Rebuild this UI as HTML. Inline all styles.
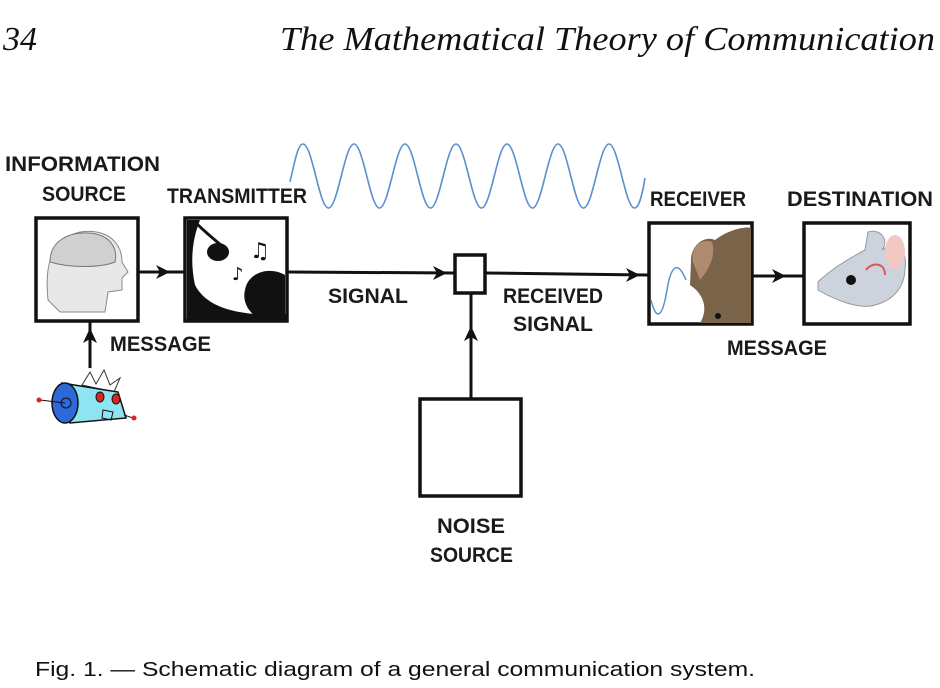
<!DOCTYPE html>
<html><head><meta charset="utf-8"><style>
html,body{margin:0;padding:0;background:#fff;}
svg{display:block}
.l{font-family:"Liberation Sans",sans-serif;font-weight:bold;fill:#1a1a1a;font-size:21px}
</style></head><body>
<svg width="940" height="688" viewBox="0 0 940 688" xmlns="http://www.w3.org/2000/svg">
<rect width="940" height="688" fill="#fff"/>
<text x="3" y="50" font-family="Liberation Serif,serif" font-style="italic" font-size="34" fill="#111">34</text>
<text x="280" y="50" font-family="Liberation Serif,serif" font-style="italic" font-size="34" fill="#111" textLength="655" lengthAdjust="spacingAndGlyphs">The Mathematical Theory of Communication</text>

<path fill="none" stroke="#5b8fd0" stroke-width="1.6" d="M290,182 C295,160 298,144 303,144 C312.3,144 319.2,208 328.5,208 S344.7,144 354,144 S370.2,208 379.5,208 S395.7,144 405,144 S421.2,208 430.5,208 S446.7,144 456,144 S472.2,208 481.5,208 S497.7,144 507,144 S523.2,208 532.5,208 S548.7,144 558,144 S574.2,208 583.5,208 S599.7,144 609,144 S625.2,208 634.5,208 C639,208 642,196 645,178"/>

<text class="l" x="5" y="171" textLength="155" lengthAdjust="spacingAndGlyphs">INFORMATION</text>
<text class="l" x="42" y="201" textLength="84" lengthAdjust="spacingAndGlyphs">SOURCE</text>
<text class="l" x="167" y="203" textLength="140" lengthAdjust="spacingAndGlyphs">TRANSMITTER</text>
<text class="l" x="328" y="303" textLength="80" lengthAdjust="spacingAndGlyphs">SIGNAL</text>
<text class="l" x="503" y="303" textLength="100" lengthAdjust="spacingAndGlyphs">RECEIVED</text>
<text class="l" x="513" y="331" textLength="80" lengthAdjust="spacingAndGlyphs">SIGNAL</text>
<text class="l" x="650" y="206" textLength="96" lengthAdjust="spacingAndGlyphs">RECEIVER</text>
<text class="l" x="787" y="206" textLength="146" lengthAdjust="spacingAndGlyphs">DESTINATION</text>
<text class="l" x="110" y="351" textLength="101" lengthAdjust="spacingAndGlyphs">MESSAGE</text>
<text class="l" x="727" y="355" textLength="100" lengthAdjust="spacingAndGlyphs">MESSAGE</text>
<text class="l" x="437" y="533" textLength="68" lengthAdjust="spacingAndGlyphs">NOISE</text>
<text class="l" x="430" y="562" textLength="83" lengthAdjust="spacingAndGlyphs">SOURCE</text>
<text x="35" y="676" font-family="Liberation Sans,sans-serif" font-size="20" fill="#111" textLength="720" lengthAdjust="spacingAndGlyphs">Fig. 1. — Schematic diagram of a general communication system.</text>

<g stroke="#111" stroke-width="3" fill="none">
<line x1="138" y1="272" x2="184" y2="272"/>
<line x1="288" y1="272" x2="454" y2="273"/>
<line x1="486" y1="273" x2="648" y2="275"/>
<line x1="752" y1="276" x2="803" y2="276"/>
<line x1="471" y1="293" x2="471" y2="398"/>
<line x1="90" y1="322" x2="90" y2="368"/>
</g>
<g fill="#111">
<path d="M170,272 L156,265 L160,272 L156,279Z"/>
<path d="M447,273 L433,266 L437,273 L433,280Z"/>
<path d="M640,275 L626,268 L630,275 L626,282Z"/>
<path d="M786,276 L772,269 L776,276 L772,283Z"/>
<path d="M471,326 L464,341 L471,337 L478,341Z"/>
<path d="M90,328 L83,343 L90,339 L97,343Z"/>
</g>

<g stroke="#111" stroke-width="3.5" fill="#fff">
<rect x="36" y="218" width="102" height="103"/>
<rect x="185" y="218" width="102" height="103"/>
<rect x="455" y="255" width="30" height="38"/>
<rect x="649" y="223" width="103" height="101"/>
<rect x="804" y="223" width="106" height="101"/>
<rect x="420" y="399" width="101" height="97"/>
</g>

<g>
<path d="M48,300 C45,270 48,240 80,232 C110,228 122,245 122,262 L128,272 L122,278 L122,290 L108,292 L105,312 L60,312 Z" fill="#e8e8e8" stroke="#888" stroke-width="1"/>
<path d="M50,262 C50,240 70,232 88,233 C110,234 118,248 115,262 C100,268 70,268 50,262Z" fill="#d0d0d0" stroke="#777" stroke-width="1"/>
</g>

<g>
<path d="M187,220 L200,220 C192,240 190,262 195,285 C205,305 230,312 255,314 L287,314 L287,320 L187,320Z" fill="#111"/>
<path d="M195,222 C205,232 215,240 222,246" stroke="#111" stroke-width="3" fill="none"/>
<ellipse cx="218" cy="252" rx="11" ry="9" fill="#111"/>
<path d="M245,290 C248,272 270,266 285,275 L285,316 L255,316 C245,308 243,298 245,290Z" fill="#111"/>
<text x="250" y="258" font-size="22" fill="#111" font-family="DejaVu Sans,sans-serif">♫</text>
<text x="232" y="280" font-size="18" fill="#111" font-family="DejaVu Sans,sans-serif">♪</text>
</g>

<g>
<path d="M691,262 C690,245 705,235 715,240 C728,230 745,226 751,228 L751,323 L700,323 C708,310 705,295 690,285Z" fill="#7a6449"/>
<path d="M693,262 C690,248 700,238 712,242 C716,255 710,268 700,280Z" fill="#b08a6e"/>
<circle cx="718" cy="316" r="3" fill="#111"/>
<path fill="none" stroke="#5b8fd0" stroke-width="1.5" d="M651,300 C656,320 662,320 667,290 C671,265 678,260 686,280"/>
</g>

<g>
<path d="M818,282 C830,270 850,258 865,250 L868,232 C880,228 890,240 882,250 C895,240 908,250 905,268 C905,285 895,300 875,305 C860,310 835,300 818,290Z" fill="#ccd3dc" stroke="#999" stroke-width="1"/>
<ellipse cx="895" cy="252" rx="10" ry="17" fill="#f1c9c2"/>
<ellipse cx="851" cy="280" rx="5" ry="5" fill="#111"/>
<path d="M866,270 C872,262 885,262 885,275" stroke="#d55" stroke-width="2" fill="none"/>
</g>

<g>
<path d="M82,385 L90,372 L96,384 L104,370 L110,385 L120,378 L114,392Z" fill="#fff" stroke="#333" stroke-width="1"/>
<path d="M62,383 L118,392 L126,418 L70,423Z" fill="#8ee4f0" stroke="#111" stroke-width="1.5"/>
<ellipse cx="65" cy="403" rx="13" ry="20" fill="#2d69d8" stroke="#111" stroke-width="1.5"/>
<circle cx="66" cy="403" r="5" fill="none" stroke="#111"/>
<line x1="40" y1="400" x2="65" y2="403" stroke="#111"/>
<circle cx="39" cy="400" r="2.5" fill="#d22"/>
<line x1="124" y1="415" x2="133" y2="418" stroke="#111"/>
<circle cx="134" cy="418" r="2.5" fill="#d22"/>
<ellipse cx="100" cy="397" rx="4" ry="5" fill="#d22" stroke="#111"/>
<ellipse cx="116" cy="399" rx="4" ry="5" fill="#d22" stroke="#111"/>
<path d="M103,410 L113,412 L111,420 L102,418Z" fill="none" stroke="#111"/>
</g>
</svg>
</body></html>
